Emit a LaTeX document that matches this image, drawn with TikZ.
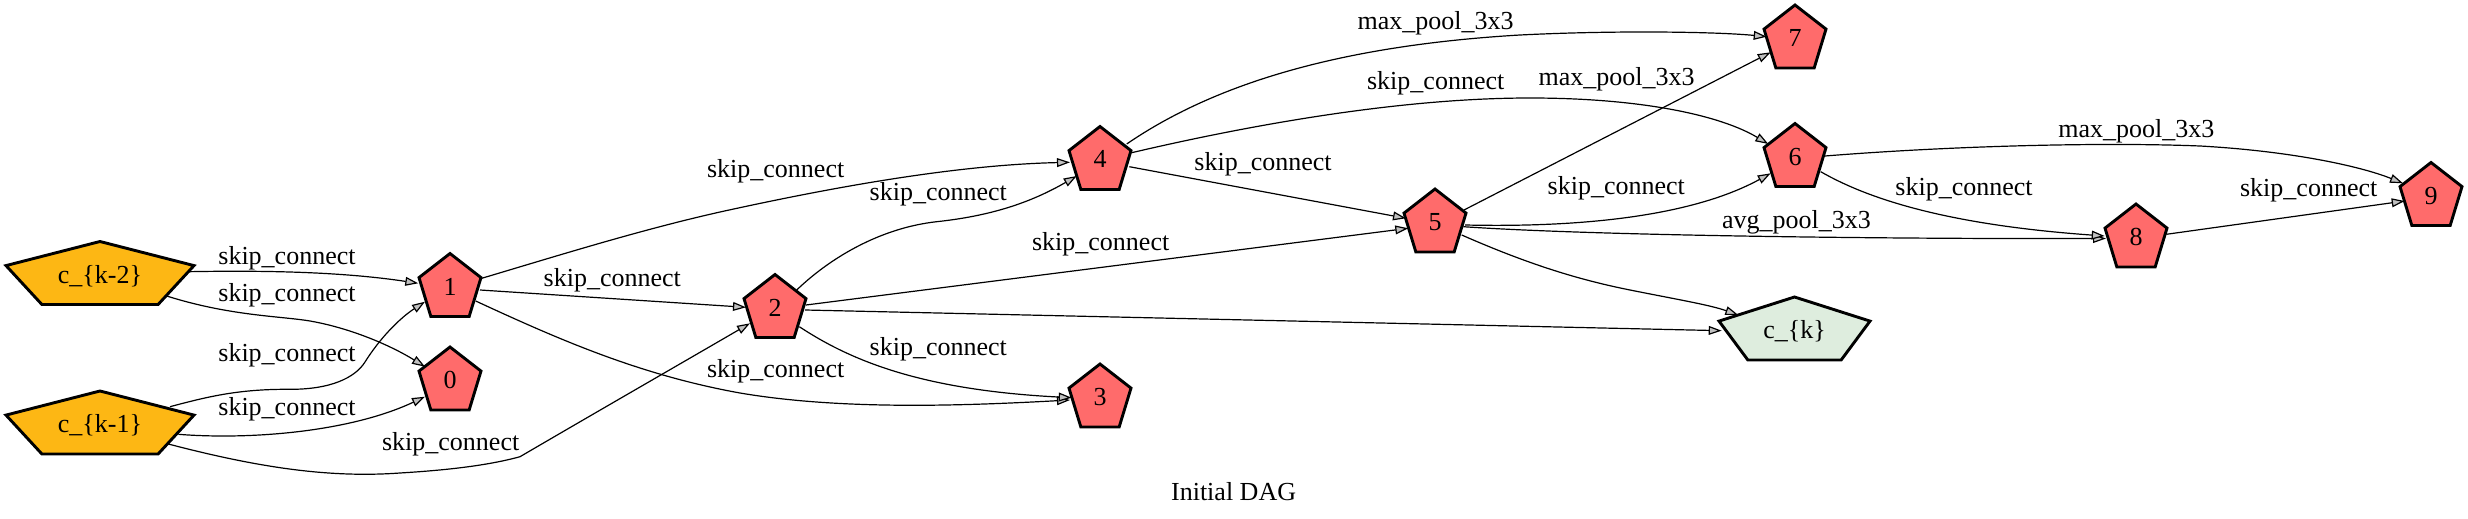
\documentclass[tikz,border=0pt]{standalone}
\usepackage{fontspec}
\setmainfont{Liberation Serif}
\usetikzlibrary{arrows.meta,calc}
\definecolor{nodered}{RGB}{255,107,107}
\definecolor{inorange}{RGB}{253,183,20}
\definecolor{outgreen}{RGB}{222,237,222}
\definecolor{arrowgray}{RGB}{192,192,192}
\tikzset{
  pentline/.style={draw=black, line width=1.45pt, line join=miter},
  ntext/.style={inner sep=0pt, text height=10pt, text depth=0pt, font=\fontsize{13}{15}\selectfont},
  elabel/.style={anchor=base west, inner sep=0pt, font=\fontsize{13}{15}\selectfont},
  conn/.style={draw=black, line width=0.6pt, -{Triangle[length=6.5pt,width=4.4pt,fill=arrowgray]}},
}
% name, cx, cy, width, fill, text
\newcommand\gvpent[6]{%
  \path[pentline, fill=#5] ({#2},{#3-31.5}) -- ({#2+#4/2},{#3-7.4}) -- ({#2+0.309*#4},{#3+31.5}) -- ({#2-0.309*#4},{#3+31.5}) -- ({#2-#4/2},{#3-7.4}) -- cycle;
  \node[ntext] (#1) at ({#2},{#3}) {#6};
}
\begin{document}
\begin{tikzpicture}[x=0.5pt,y=-0.5pt]
\useasboundingbox (0,0) rectangle (2468,519);
% nodes
\gvpent{ck2}{100}{273}{188}{inorange}{c\_\{k-2\}}
\gvpent{ck1}{100}{422.5}{188}{inorange}{c\_\{k-1\}}
\gvpent{n1}{450}{285}{62}{nodered}{1}
\gvpent{n0}{450}{378.5}{62}{nodered}{0}
\gvpent{n2}{775}{306}{62}{nodered}{2}
\gvpent{n4}{1100}{158}{62}{nodered}{4}
\gvpent{n3}{1100}{395.5}{62}{nodered}{3}
\gvpent{n5}{1435}{220.5}{62}{nodered}{5}
\gvpent{n7}{1795}{36.5}{62}{nodered}{7}
\gvpent{n6}{1795}{155}{62}{nodered}{6}
\gvpent{ck}{1794.5}{328.5}{151}{outgreen}{c\_\{k\}}
\gvpent{n8}{2136}{235.5}{62}{nodered}{8}
\gvpent{n9}{2431}{194}{62}{nodered}{9}
% edges
\draw[conn] ($(ck2)+(88.3,-1.3)$) .. controls (280,270) and (350,273) .. ($(n1)+(-31.7,-1.7)$);
\draw[conn] ($(ck2)+(66.7,23)$) .. controls (230,316) and (280,316) .. (310,321) .. controls (350,328) and (390,345) .. ($(n0)+(-25,-11.8)$);
\draw[conn] ($(ck1)+(70,-15.8)$) .. controls (210,396) and (240,389) .. (290,389.3) .. controls (330,389.5) and (355,378) .. (365,362) .. controls (380,338) and (400,318) .. ($(n1)+(-25,16.7)$);
\draw[conn] ($(ck1)+(78.3,11.8)$) .. controls (250,440) and (350,432) .. ($(n0)+(-25,18.2)$);
\draw[conn] ($(ck1)+(68.3,21.5)$) .. controls (260,468) and (330,478) .. (400,473) .. controls (450,470) and (490,465) .. (520,456.7) .. controls (600,410) and (680,364) .. ($(n2)+(-25,17.3)$);
\draw[conn] ($(n1)+(31.7,-6.7)$) .. controls (560,255) and (640,230) .. (720,212) .. controls (820,190) and (950,165) .. ($(n4)+(-30,4.3)$);
\draw[conn] ($(n1)+(30,5)$) -- ($(n2)+(-29,1.3)$);
\draw[conn] ($(n1)+(25.7,16)$) .. controls (560,340) and (640,375) .. (740,393) .. controls (840,410) and (960,406) .. ($(n3)+(-30,4.5)$);
\draw[conn] ($(n2)+(21.7,-16)$) .. controls (830,258) and (880,228) .. (936.7,221.7) .. controls (990,216) and (1030,203) .. ($(n4)+(-23.3,18)$);
\draw[conn] ($(n2)+(31,-1)$) -- ($(n5)+(-26.7,7.8)$);
\draw[conn] ($(n2)+(30,4)$) -- ($(ck)+(-72.8,2.2)$);
\draw[conn] ($(n2)+(24.3,20.7)$) .. controls (850,360) and (920,390) .. ($(n3)+(-28.3,2.2)$);
\draw[conn] ($(n4)+(26.7,-14)$) .. controls (1220,80) and (1350,45) .. (1520,35) .. controls (1620,30) and (1720,32) .. ($(n7)+(-28.3,0.2)$);
\draw[conn] ($(n4)+(31.7,-5.3)$) .. controls (1250,125) and (1400,98) .. (1530,98) .. controls (1640,98) and (1720,115) .. ($(n6)+(-26.7,-11)$);
\draw[conn] ($(n4)+(29.3,8.7)$) -- ($(n5)+(-29,-2.2)$);
\draw[conn] ($(n5)+(29,-10.5)$) -- ($(n7)+(-24.3,15.8)$);
\draw[conn] ($(n5)+(30,4.5)$) .. controls (1600,228) and (1700,212) .. ($(n6)+(-24.3,18.3)$);
\draw[conn] ($(n5)+(28.3,6.2)$) .. controls (1600,236) and (1900,239) .. ($(n8)+(-30,3)$);
\draw[conn] ($(n5)+(26.7,14.5)$) .. controls (1530,265) and (1580,280) .. (1630,290) .. controls (1680,300) and (1710,305) .. ($(ck)+(-56.2,-13.5)$);
\draw[conn] ($(n6)+(30,1)$) .. controls (1950,146) and (2100,142) .. (2200,146) .. controls (2290,151) and (2360,166) .. ($(n9)+(-28,-10.7)$);
\draw[conn] ($(n6)+(25.7,16.7)$) .. controls (1870,200) and (1950,225) .. ($(n8)+(-31.3,0.5)$);
\draw[conn] ($(n8)+(30.3,-1.2)$) -- ($(n9)+(-26.3,7)$);
% edge labels
\node[elabel] (l1) at (218,264) {skip\_connect};
\node[elabel] (l2) at (218,301.7) {skip\_connect};
\node[elabel] (l3) at (218,361.7) {skip\_connect};
\node[elabel] (l4) at (218,415) {skip\_connect};
\node[elabel] (l5) at (381.7,450) {skip\_connect};
\node[elabel] (l6) at (543.3,286) {skip\_connect};
\node[elabel] (l7) at (706.7,377) {skip\_connect};
\node[elabel] (l8) at (706.7,177.3) {skip\_connect};
\node[elabel] (l9) at (869.3,200.7) {skip\_connect};
\node[elabel] (l10) at (1031.7,250) {skip\_connect};
\node[elabel] (l11) at (869.3,355) {skip\_connect};
\node[elabel] (l12) at (1357.3,30) {max\_pool\_3x3};
\node[elabel] (l13) at (1366.7,89.3) {skip\_connect};
\node[elabel] (l14) at (1194,170.7) {skip\_connect};
\node[elabel] (l15) at (1538.3,86) {max\_pool\_3x3};
\node[elabel] (l16) at (1547.3,194) {skip\_connect};
\node[elabel] (l17) at (1721.7,228.5) {avg\_pool\_3x3};
\node[elabel] (l18) at (2058,137.3) {max\_pool\_3x3};
\node[elabel] (l19) at (1895,195) {skip\_connect};
\node[elabel] (l20) at (2239.7,196.7) {skip\_connect};
\node[elabel] (title) at (1170.7,500.7) {Initial DAG};
\end{tikzpicture}
\end{document}
